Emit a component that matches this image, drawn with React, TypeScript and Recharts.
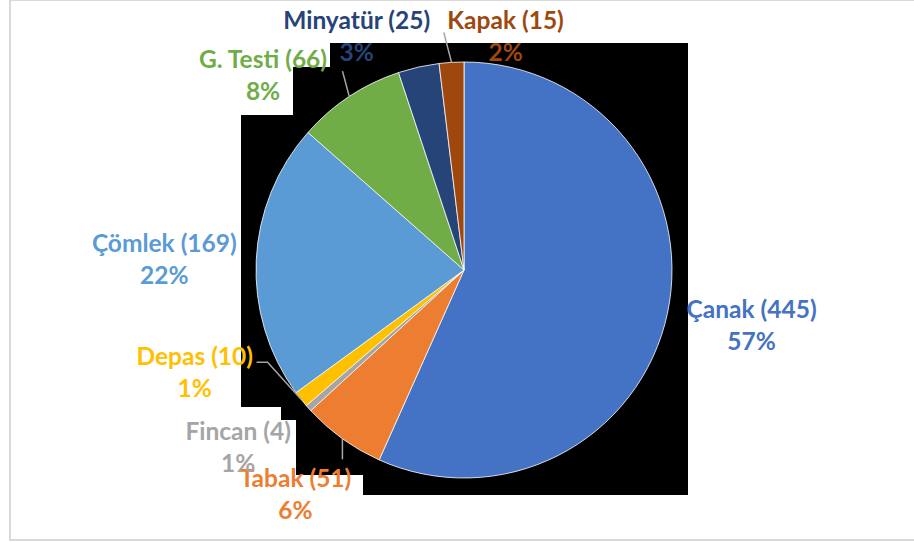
import React from "react";
import { PieChart, Pie, Cell } from "recharts";

// pottery forms and their counts, clockwise from 12 o'clock
const categories = ["Çanak", "Tabak", "Fincan", "Depas", "Çömlek", "G. Testi", "Minyatür", "Kapak"];
const counts = [445, 51, 4, 10, 169, 66, 25, 15];
const colors = ["#4472C4", "#ED7D31", "#A5A5A5", "#FFC000", "#5B9BD5", "#70AD47", "#264478", "#9E480E"];

const data = categories.map((name, i) => ({ name, value: counts[i] }));

// where Excel moved each data label, relative to the default spot outside the slice
const LABEL_SHIFT: Record<string, [number, number]> = {
  "Çanak": [4, -6],
  "Tabak": [1, -12],
  "Fincan": [-9, -16],
  "Depas": [-42, -79],
  "Çömlek": [-10, 2],
  "G. Testi": [-41, 46],
  "Minyatür": [-44, 49],
  "Kapak": [59, 55],
};
const WITH_LEADER = ["G. Testi", "Kapak", "Depas", "Tabak"];

const W = 914;
const H = 542;
const FONT = "Lato, 'Open Sans', sans-serif";
const FONT_SIZE = 24.5;
const RAD = Math.PI / 180;

const renderLabel = (props: any) => {
  const { cx, cy, midAngle, outerRadius, name, value, percent, index } = props;
  const color = colors[index];
  const base = outerRadius + 82;
  const shift = LABEL_SHIFT[name] || [0, 0];
  const lx = cx + base * Math.cos(-midAngle * RAD) + shift[0];
  const ly = cy + base * Math.sin(-midAngle * RAD) + shift[1];
  const line1 = `${name} (${value})`;
  const line2 = `${Math.round(percent * 100)}%`;

  let leader = null;
  if (WITH_LEADER.includes(name)) {
    const ex = cx + outerRadius * Math.cos(-midAngle * RAD);
    const ey = cy + outerRadius * Math.sin(-midAngle * RAD);
    const halfW = line1.length * FONT_SIZE * 0.24 + 3;
    let pts: string;
    if (ex > lx - halfW && ex < lx + halfW && Math.abs(ey - ly) > 34) {
      // slice edge right above/below the label: straight vertical line
      const ty = ey < ly ? ly - 34 : ly + 34;
      pts = `${ex},${ey} ${ex},${ty}`;
    } else if (Math.abs(ex - lx) < halfW + 15) {
      const sx = ex < lx ? lx - halfW : lx + halfW;
      pts = `${ex},${ey} ${sx},${ly - 3}`;
    } else {
      const sx = ex < lx ? lx - halfW : lx + halfW;
      const bx = ex < lx ? sx - 11 : sx + 11;
      pts = `${ex},${ey} ${bx},${ly - 9} ${sx},${ly - 9}`;
    }
    leader = <polyline points={pts} fill="none" stroke="#A6A6A6" strokeWidth={1.5} />;
  }

  return (
    <g>
      {leader}
      <text
        x={lx}
        y={ly}
        fill={color}
        textAnchor="middle"
        fontFamily={FONT}
        fontWeight={700}
        fontSize={FONT_SIZE}
      >
        <tspan x={lx} y={ly - 16} dominantBaseline="central">{line1}</tspan>
        <tspan x={lx} y={ly + 16} dominantBaseline="central">{line2}</tspan>
      </text>
    </g>
  );
};

// the plot area of the source picture came out black, with the white label boxes cut out of it
const BLACK_AREA =
  "330,43 688,43 688,495 363,495 363,475 296,475 296,420 281,420 281,407 241,407 241,115 293,115 293,67 330,67";

export default function App() {
  return (
    <div style={{ position: "fixed", left: 0, top: 0, width: W, height: H, background: "#fff" }}>
      <svg width={W} height={H} style={{ position: "absolute", left: 0, top: 0 }}>
        <rect x={10} y={0} width={W + 10} height={540} fill="#fff" stroke="#D9D9D9" strokeWidth={2} />
        <polygon points={BLACK_AREA} fill="#000" />
      </svg>
      <div style={{ position: "absolute", left: 0, top: 0 }}>
        <PieChart width={W} height={H} margin={{ top: 0, right: 0, bottom: 0, left: 0 }}>
          <Pie
            data={data}
            dataKey="value"
            nameKey="name"
            cx={464}
            cy={270}
            outerRadius={208}
            startAngle={90}
            endAngle={-270}
            stroke="#ffffff"
            strokeWidth={0.8}
            label={renderLabel}
            labelLine={false}
            isAnimationActive={false}
          >
            {data.map((entry, i) => (
              <Cell key={`cell-${entry.name}`} fill={colors[i]} />
            ))}
          </Pie>
        </PieChart>
      </div>
    </div>
  );
}
